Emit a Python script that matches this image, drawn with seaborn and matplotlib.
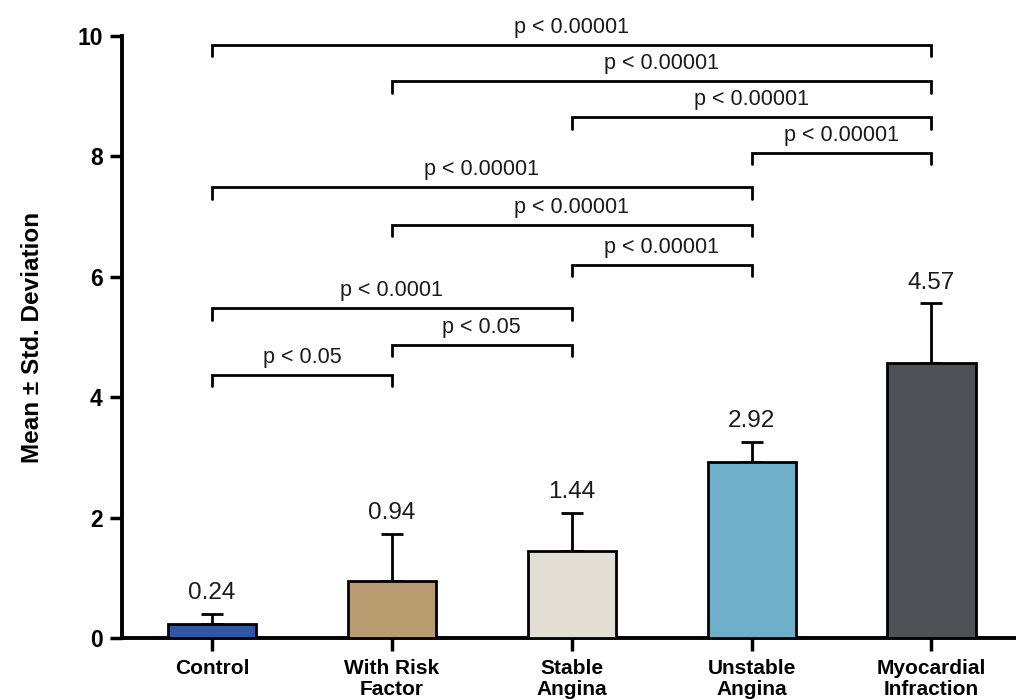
import matplotlib
matplotlib.use("Agg")
import matplotlib.pyplot as plt
import seaborn as sns
import pandas as pd
import numpy as np

categories = ["Control", "With Risk\nFactor", "Stable\nAngina", "Unstable\nAngina", "Myocardial\nInfraction"]
means = [0.24, 0.94, 1.44, 2.92, 4.57]
sds = [0.16, 0.79, 0.64, 0.34, 0.99]
colors = ["#2E58A6", "#B89C6F", "#E2DED4", "#70AFC9", "#4E5156"]

bracket_left = [0, 1, 0, 2, 1, 0, 3, 2, 1, 0]
bracket_right = [1, 2, 2, 3, 3, 3, 4, 4, 4, 4]
bracket_y = [4.37, 4.87, 5.48, 6.20, 6.86, 7.49, 8.06, 8.65, 9.25, 9.85]
bracket_labels = ["p < 0.05", "p < 0.05", "p < 0.0001", "p < 0.00001", "p < 0.00001",
                  "p < 0.00001", "p < 0.00001", "p < 0.00001", "p < 0.00001", "p < 0.00001"]

sns.set_style("ticks")
plt.rcParams["font.family"] = ["Liberation Sans", "DejaVu Sans"]

df = pd.DataFrame({"group": categories, "mean": means})

fig = plt.figure(figsize=(10.16, 6.99), dpi=100)
ax = fig.add_axes([122 / 1016, 1 - 638 / 699, 1 - 122 / 1016, (638 - 36) / 699])

sns.barplot(data=df, x="group", y="mean", hue="group", palette=colors, legend=False,
            width=0.49, edgecolor="black", linewidth=2.0, errorbar=None, saturation=1,
            ax=ax, zorder=3)

x = np.arange(len(categories))
ax.errorbar(x, means, yerr=[np.zeros(len(sds)), sds], fmt="none", ecolor="black",
            elinewidth=2.0, capsize=8, capthick=2.0, zorder=2)

for xi, m, s in zip(x, means, sds):
    ax.annotate(f"{m:.2f}", (xi, m + s), xytext=(0, 7), textcoords="offset points",
                ha="center", va="bottom", fontsize=17.5, color="#1a1a1a")

tick_h = 0.19
for l, r, y, lab in zip(bracket_left, bracket_right, bracket_y, bracket_labels):
    ax.plot([l, l, r, r], [y - tick_h, y, y, y - tick_h], color="black", lw=2.0,
            clip_on=False, solid_joinstyle="miter", zorder=4)
    ax.annotate(lab, ((l + r) / 2, y), xytext=(0, 5), textcoords="offset points",
                ha="center", va="bottom", fontsize=15.5, color="#1a1a1a", annotation_clip=False)

ax.set_xlim(-0.5, 4.47)
ax.set_ylim(0, 10)
ax.set_yticks([0, 2, 4, 6, 8, 10])
ax.set_xlabel("")
ax.set_ylabel("Mean ± Std. Deviation", fontsize=17.5, fontweight="bold", labelpad=24,
              color="black")
ax.tick_params(axis="both", which="major", direction="out", length=9, width=2.5,
               color="black", labelcolor="black")
ax.tick_params(axis="y", labelsize=16.5, pad=5)
ax.tick_params(axis="x", labelsize=15, pad=6)
for lab in ax.get_xticklabels() + ax.get_yticklabels():
    lab.set_fontweight("bold")
for lab in ax.get_xticklabels():
    lab.set_linespacing(1.15)
for sp in ["top", "right"]:
    ax.spines[sp].set_visible(False)
for sp in ["left", "bottom"]:
    ax.spines[sp].set_linewidth(2.8)
    ax.spines[sp].set_color("black")

fig.savefig("out.png", dpi=100)
